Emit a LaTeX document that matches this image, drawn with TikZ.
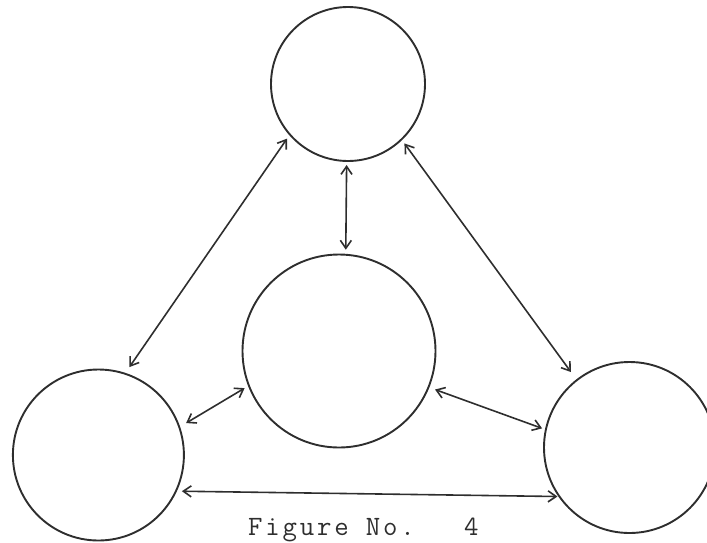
\documentclass[tikz,border=0pt]{standalone}
\usepackage{fontspec}
\newfontfamily\capfont{Latin Modern Mono}[LetterSpace=10]
\usetikzlibrary{arrows.meta}
\definecolor{ink}{HTML}{2E2E2E}
\tikzset{
  ring/.style={draw=ink, circle, line width=1.9pt, inner sep=0pt, outer sep=0pt},
  link/.style={draw=ink, line width=1.6pt, {Straight Barb[length=8pt,width=11pt]}-{Straight Barb[length=8pt,width=11pt]}},
  caption/.style={anchor=base west, inner sep=0pt, text=ink, font=\capfont\fontsize{28}{32}\selectfont}
}
\begin{document}
\begin{tikzpicture}[x=1pt,y=-1pt]
\useasboundingbox (0,0) rectangle (707,542);
\node[ring, minimum size=154pt] (T) at (348,84) {};
\node[ring, minimum size=193pt] (C) at (339,351) {};
\node[ring, minimum size=171pt] (L) at (98.4,455) {};
\node[ring, minimum size=171pt] (R) at (629.5,447.5) {};
\draw[link, shorten <=4pt, shorten >=5pt] (T.269) -- (C.86);
\draw[link, shorten <=5pt, shorten >=8pt] (T.221) -- (L.72);
\draw[link, shorten <=5pt, shorten >=10pt] (T.314) -- (R.128);
\draw[link, shorten <=5pt, shorten >=8pt] (C.201) -- (L.19);
\draw[link, shorten <=7pt, shorten >=4pt] (C.338) -- (R.168);
\draw[link, shorten <=6pt, shorten >=2pt] (L.335.6) -- (R.215.2);
\node[caption] (cap) at (248,535) {Figure No.\ \ \kern15pt 4};
\end{tikzpicture}
\end{document}
